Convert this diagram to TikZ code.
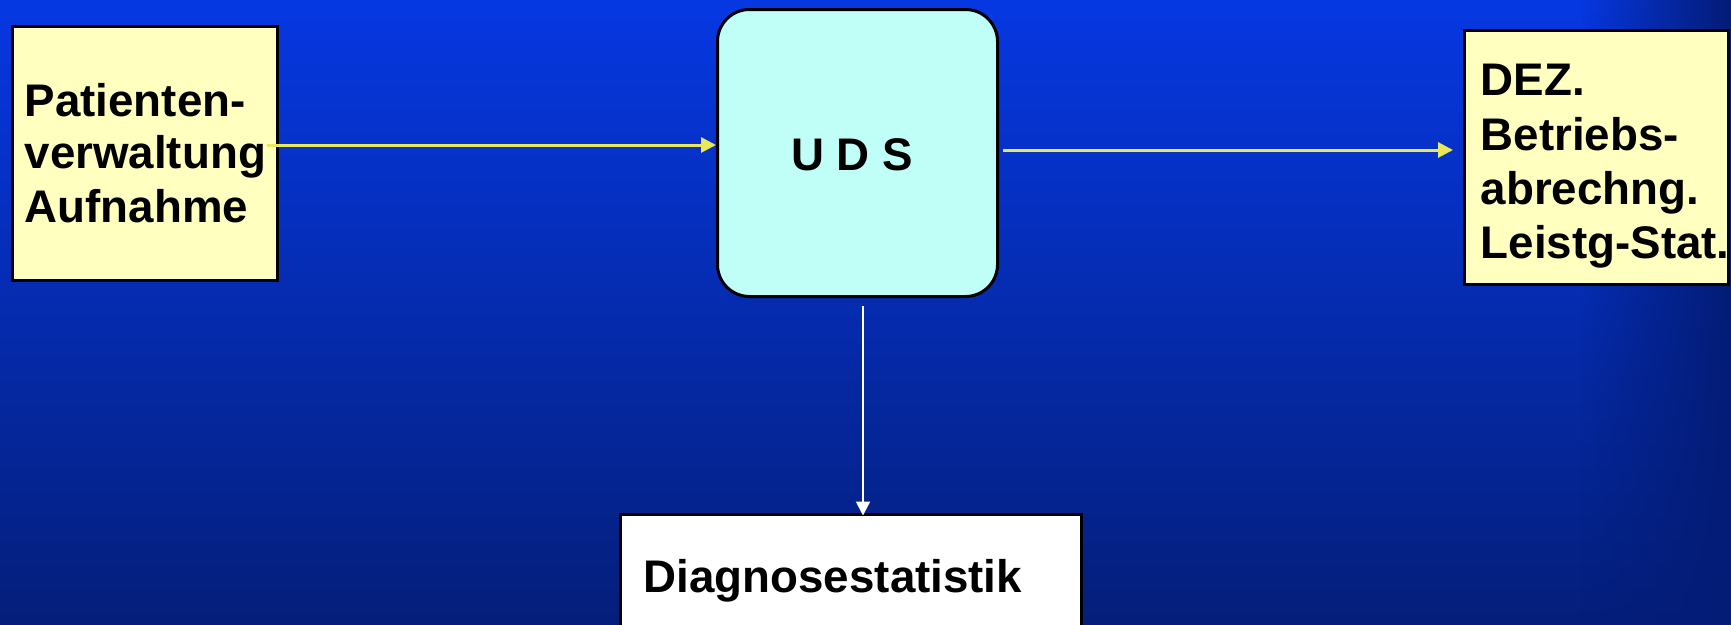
\documentclass[tikz,border=0pt]{standalone}
\usepackage{fontspec}
\setmainfont{Liberation Sans}
\usetikzlibrary{arrows.meta,fadings}
\definecolor{bgtop}{RGB}{6,56,226}
\definecolor{bgbot}{RGB}{4,30,122}
\definecolor{edgedark}{RGB}{3,28,118}
\definecolor{boxyellow}{RGB}{255,255,192}
\definecolor{boxcyan}{RGB}{192,255,248}
\definecolor{arrowyellow}{RGB}{232,232,88}
\tikzfading[name=fade right, left color=transparent!100, right color=transparent!0]
\begin{document}
\begin{tikzpicture}[x=1pt,y=-1pt,
  box/.style={draw=black, line width=3pt, inner sep=0pt},
  lbl/.style={anchor=base west, inner sep=0pt, font=\fontsize{45.7}{54}\selectfont\bfseries, text=black},
  yarrow/.style={draw=arrowyellow, line width=3pt, -{Triangle[length=15pt,width=15pt]}},
  warrow/.style={draw=white, line width=2pt, -{Triangle[length=14pt,width=14pt]}}]
\useasboundingbox (0,0) rectangle (1731,624);
\clip (0,0) rectangle (1731,624);
\shade[top color=bgtop, bottom color=bgbot] (0,0) rectangle (1731,624);
\fill[edgedark, path fading=fade right] (1580,0) rectangle (1731,624);

% boxes
\node[box, fill=boxyellow, minimum width=265pt, minimum height=254pt] (pat) at (145,153.5) {};
\node[box, fill=boxcyan, rounded corners=32pt, minimum width=280pt, minimum height=287pt] (uds) at (857.5,153) {};
\node[box, fill=boxyellow, minimum width=264pt, minimum height=254pt] (dez) at (1596.5,157.5) {};
\node[box, fill=white, minimum width=461pt, minimum height=146pt] (diag) at (851,587.5) {};

% texts
\node[lbl] (p1) at (24.5,116.7) {Patienten-};
\node[lbl] (p2) at (24.5,168.5) {verwaltung};
\node[lbl] (p3) at (24.5,222.5) {Aufnahme};
\node[lbl, anchor=base] (u1) at (852,170) {U D S};
\node[lbl] (d1) at (1480.5,95) {DEZ.};
\node[lbl] (d2) at (1480.5,150) {Betriebs-};
\node[lbl] (d3) at (1480.5,204) {abrechng.};
\node[lbl] (d4) at (1480.5,258) {Leistg-Stat.};
\node[lbl] (g1) at (643.5,592) {Diagnosestatistik};

% connectors
\coordinate (a1) at (267,145);
\draw[yarrow] (a1) -- (a1 -| uds.west);
\coordinate (a2) at (1003,150);
\draw[yarrow, shorten >=10pt] (a2) -- (a2 -| dez.west);
\coordinate (a3) at (863,306);
\draw[warrow, shorten >=-2.5pt] (a3) -- (a3 |- diag.north);
\end{tikzpicture}
\end{document}
